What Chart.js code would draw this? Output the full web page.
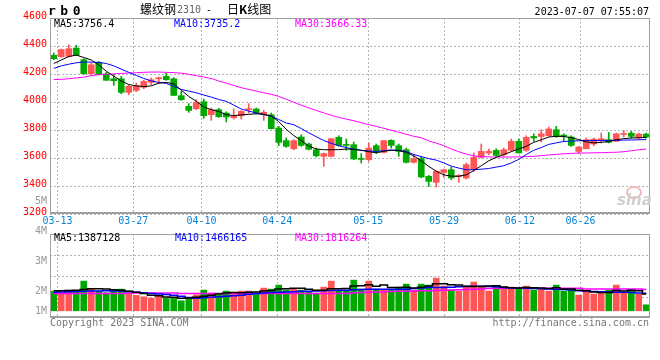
<!DOCTYPE html>
<html>
<head>
<meta charset="utf-8">
<script src="https://cdn.jsdelivr.net/npm/chart.js@4.4.0/dist/chart.umd.min.js"></script>
<style>
  html, body { margin: 0; padding: 0; background: #fff; }
  #wrap { position: relative; width: 660px; height: 360px; overflow: hidden;
          font-family: "DejaVu Sans Mono", monospace; font-size: 10px; }
  canvas { position: absolute; left: 0; }
  .t { position: absolute; white-space: nowrap; line-height: 12px; }
  .cjk { font-family: "Noto Sans CJK SC", sans-serif; font-size: 12px; }
  .vlab { position: absolute; right: 613px; line-height: 12px; color: #999; }
</style>
</head>
<body>
<div id="wrap">
  <canvas id="priceChart" width="660" height="232" style="top:0"></canvas>
  <canvas id="volChart" width="660" height="134" style="top:226px"></canvas>

  <div class="t" style="left:48px;top:4px;font-weight:bold;font-size:13px;letter-spacing:4.5px;line-height:13px">rb0</div>
  <div class="t cjk" style="left:140px;top:3px">螺纹钢</div>
  <div class="t" style="left:177px;top:4px;color:#666">2310</div>
  <div class="t" style="left:206px;top:4px">-</div>
  <div class="t cjk" style="left:227px;top:3px">日<b>K</b>线图</div>
  <div class="t" style="right:11px;top:6px">2023-07-07 07:55:07</div>

  <div class="t" id="pMa5" style="left:54px;top:18px;color:#000"></div>
  <div class="t" id="pMa10" style="left:174px;top:18px;color:#0000ff"></div>
  <div class="t" id="pMa30" style="left:295px;top:18px;color:#ff00ff"></div>

  <div class="t" id="vMa5" style="left:54px;top:232px;color:#000"></div>
  <div class="t" id="vMa10" style="left:175px;top:232px;color:#0000ff"></div>
  <div class="t" id="vMa30" style="left:295px;top:232px;color:#ff00ff"></div>

  <div class="vlab" style="top:195px">5M</div>
  <div class="vlab" style="top:225px">4M</div>
  <div class="vlab" style="top:255px">3M</div>
  <div class="vlab" style="top:285px">2M</div>
  <div class="vlab" style="top:305px">1M</div>

  <div class="t" style="left:626px;top:186px;width:12px;height:9px;border:2px solid #f4b8b8;border-radius:50%;line-height:0"></div>
  <div class="t" style="left:617px;top:194px;font-family:'DejaVu Sans',sans-serif;font-style:italic;font-weight:bold;font-size:15px;color:#cfcfcf">sina</div>

  <div class="t" style="left:50px;top:317px;color:#777">Copyright 2023 SINA.COM</div>
  <div class="t" style="right:11px;top:317px;color:#777">http://finance.sina.com.cn</div>
</div>

<script>
// --- DATA ---
// one bar per trading day, 03-10 .. 07-07
const dateTicks = ['03-13', '03-27', '04-10', '04-24', '05-15', '05-29', '06-12', '06-26'];
const dateTickBars = [1, 11, 20, 30, 42, 52, 62, 70];

const opens = [4333, 4324, 4326, 4385, 4302, 4202, 4283, 4200, 4166, 4166,
  4069, 4083, 4105, 4140, 4166, 4183, 4166, 4045, 3969, 3952,
  4002, 3909, 3945, 3921, 3888, 3902, 3945, 3950, 3914, 3909,
  3814, 3724, 3666, 3750, 3700, 3659, 3612, 3612, 3747, 3693,
  3695, 3596, 3588, 3688, 3640, 3726, 3688, 3659, 3569, 3595,
  3469, 3426, 3497, 3516, 3469, 3457, 3516, 3605, 3636, 3655,
  3624, 3655, 3719, 3655, 3754, 3754, 3759, 3802, 3759, 3750,
  3647, 3666, 3700, 3728, 3731, 3719, 3768, 3778, 3743, 3771];
const highs = [4350, 4378, 4409, 4405, 4309, 4278, 4290, 4212, 4195, 4183,
  4124, 4135, 4155, 4171, 4178, 4207, 4174, 4076, 3988, 4016,
  4021, 3957, 3955, 3930, 3950, 3938, 3988, 3957, 3940, 3921,
  3826, 3743, 3731, 3766, 3707, 3671, 3636, 3738, 3759, 3735,
  3714, 3631, 3707, 3700, 3726, 3731, 3700, 3671, 3624, 3612,
  3476, 3510, 3521, 3535, 3481, 3564, 3636, 3700, 3664, 3666,
  3671, 3735, 3735, 3759, 3773, 3802, 3821, 3826, 3773, 3759,
  3683, 3743, 3743, 3778, 3783, 3778, 3797, 3790, 3778, 3778];
const lows = [4302, 4319, 4321, 4331, 4197, 4188, 4193, 4155, 4119, 4059,
  4052, 4074, 4095, 4124, 4131, 4155, 4047, 4012, 3926, 3945,
  3883, 3869, 3890, 3857, 3878, 3878, 3921, 3914, 3869, 3807,
  3688, 3676, 3659, 3683, 3657, 3607, 3540, 3607, 3683, 3655,
  3588, 3564, 3576, 3631, 3636, 3671, 3612, 3564, 3564, 3459,
  3397, 3393, 3462, 3445, 3426, 3450, 3505, 3600, 3624, 3612,
  3612, 3647, 3636, 3647, 3719, 3714, 3754, 3747, 3719, 3683,
  3631, 3666, 3688, 3707, 3707, 3719, 3750, 3743, 3735, 3743];
const closes = [4309, 4374, 4381, 4333, 4202, 4266, 4197, 4155, 4152, 4069,
  4112, 4116, 4147, 4159, 4174, 4159, 4047, 4016, 3940, 3997,
  3902, 3945, 3895, 3893, 3898, 3933, 3950, 3921, 3926, 3809,
  3712, 3683, 3724, 3690, 3662, 3616, 3631, 3738, 3690, 3690,
  3593, 3590, 3671, 3647, 3724, 3690, 3647, 3569, 3595, 3464,
  3433, 3505, 3516, 3457, 3474, 3552, 3605, 3647, 3647, 3619,
  3659, 3719, 3636, 3747, 3743, 3773, 3807, 3754, 3757, 3690,
  3678, 3731, 3735, 3738, 3712, 3773, 3771, 3754, 3771, 3750];

const ma5 = [4275, 4300, 4325, 4335, 4318, 4300, 4265, 4220, 4185, 4150,
  4125, 4115, 4110, 4115, 4135, 4140, 4130, 4085, 4040, 4005,
  3965, 3945, 3932, 3910, 3903, 3908, 3912, 3916, 3912, 3900,
  3860, 3805, 3760, 3725, 3685, 3665, 3659, 3659, 3660, 3664,
  3662, 3655, 3645, 3637, 3648, 3655, 3655, 3640, 3615, 3580,
  3540, 3505, 3480, 3470, 3469, 3480, 3510, 3545, 3580, 3605,
  3625, 3645, 3665, 3683, 3712, 3730, 3750, 3755, 3754, 3745,
  3732, 3715, 3708, 3712, 3718, 3730, 3738, 3743, 3745, 3747];
const ma10 = [4240, 4258, 4270, 4280, 4285, 4285, 4283, 4275, 4258, 4235,
  4212, 4190, 4168, 4150, 4140, 4133, 4112, 4090, 4078, 4066,
  4050, 4035, 4018, 4005, 3978, 3950, 3935, 3922, 3910, 3898,
  3875, 3850, 3838, 3810, 3780, 3752, 3725, 3705, 3688, 3675,
  3662, 3655, 3650, 3647, 3652, 3658, 3652, 3647, 3625, 3610,
  3595, 3585, 3565, 3542, 3528, 3516, 3516, 3520, 3525, 3535,
  3545, 3565, 3590, 3625, 3655, 3675, 3697, 3708, 3718, 3721,
  3723, 3724, 3725, 3725, 3726, 3726, 3728, 3729, 3730, 3732];
const ma30 = [4160, 4162, 4166, 4172, 4178, 4188, 4195, 4198, 4201, 4204,
  4207, 4209, 4212, 4214, 4214, 4212, 4210, 4206, 4198, 4188,
  4178, 4168, 4150, 4135, 4118, 4102, 4090, 4078, 4066, 4055,
  4040, 4020, 3998, 3977, 3958, 3940, 3922, 3905, 3890, 3878,
  3866, 3852, 3838, 3826, 3812, 3798, 3784, 3770, 3755, 3745,
  3722, 3707, 3688, 3665, 3645, 3628, 3615, 3610, 3608, 3607,
  3607, 3607, 3608, 3610, 3612, 3616, 3622, 3626, 3630, 3633,
  3635, 3636, 3637, 3638, 3640, 3641, 3645, 3652, 3658, 3664];

const volumes = [1642000, 1500000, 1717000, 1550000, 2475000, 1808000, 1642000, 1500000, 1667000, 1808000,
  1450000, 1283000, 1167000, 1058000, 1283000, 1033000, 1033000, 833000, 1117000, 1333000,
  1725000, 1475000, 1308000, 1642000, 1475000, 1642000, 1642000, 1392000, 1892000, 1808000,
  2142000, 1725000, 1808000, 1725000, 1558000, 1475000, 1975000, 2475000, 1642000, 1667000,
  2558000, 1808000, 2475000, 1808000, 1725000, 1725000, 1975000, 2225000, 1725000, 2225000,
  2142000, 2725000, 2058000, 1725000, 1642000, 2058000, 2392000, 2058000, 1642000, 2058000,
  1917000, 1975000, 1808000, 2058000, 1725000, 1808000, 1642000, 2142000, 1642000, 1725000,
  1308000, 1642000, 1392000, 1558000, 1725000, 2142000, 1475000, 1642000, 1392000, 500000];
const volMa5 = [1670000, 1680000, 1700000, 1720000, 1770000, 1830000, 1840000, 1820000, 1760000, 1720000,
  1620000, 1550000, 1450000, 1300000, 1250000, 1160000, 1120000, 1040000, 1060000, 1120000,
  1210000, 1300000, 1400000, 1490000, 1520000, 1510000, 1540000, 1560000, 1660000, 1700000,
  1820000, 1830000, 1870000, 1880000, 1790000, 1720000, 1710000, 1840000, 1830000, 1850000,
  2060000, 2090000, 2180000, 2050000, 2160000, 1950000, 1950000, 1960000, 1890000, 1970000,
  2060000, 2250000, 2260000, 2180000, 2140000, 2040000, 2020000, 2020000, 2070000, 2080000,
  1990000, 1930000, 1910000, 1950000, 1930000, 1910000, 1850000, 1920000, 1820000, 1820000,
  1720000, 1670000, 1560000, 1520000, 1530000, 1690000, 1660000, 1710000, 1680000, 1390000];
const volMa10 = [1550000, 1570000, 1590000, 1610000, 1630000, 1650000, 1660000, 1670000, 1660000, 1640000,
  1600000, 1550000, 1500000, 1450000, 1400000, 1350000, 1300000, 1220000, 1100000, 1040000,
  1080000, 1120000, 1170000, 1210000, 1250000, 1300000, 1380000, 1450000, 1490000, 1520000,
  1550000, 1570000, 1590000, 1620000, 1630000, 1650000, 1670000, 1690000, 1710000, 1720000,
  1750000, 1770000, 1800000, 1800000, 1800000, 1800000, 1800000, 1800000, 1850000, 1900000,
  1950000, 1950000, 1950000, 1970000, 2000000, 2030000, 2050000, 2040000, 2020000, 2000000,
  1950000, 1920000, 1880000, 1870000, 1850000, 1830000, 1810000, 1790000, 1770000, 1740000,
  1680000, 1650000, 1610000, 1580000, 1560000, 1550000, 1540000, 1530000, 1490000, 1466000];
const volMa30 = [1450000, 1450000, 1450000, 1450000, 1450000, 1450000, 1450000, 1450000, 1450000, 1450000,
  1480000, 1480000, 1480000, 1480000, 1480000, 1480000, 1480000, 1450000, 1450000, 1450000,
  1450000, 1450000, 1450000, 1450000, 1450000, 1450000, 1450000, 1450000, 1450000, 1450000,
  1450000, 1450000, 1450000, 1450000, 1450000, 1450000, 1450000, 1450000, 1450000, 1450000,
  1500000, 1520000, 1550000, 1565000, 1580000, 1600000, 1620000, 1635000, 1650000, 1665000,
  1680000, 1695000, 1710000, 1730000, 1750000, 1775000, 1800000, 1825000, 1850000, 1870000,
  1870000, 1870000, 1870000, 1870000, 1870000, 1870000, 1870000, 1870000, 1870000, 1870000,
  1870000, 1820000, 1820000, 1820000, 1820000, 1820000, 1820000, 1820000, 1820000, 1780000];

// latest values shown in the panel headers
const priceMaLabels = ['MA5:3756.4', 'MA10:3735.2', 'MA30:3666.33'];
const volMaLabels = ['MA5:1387128', 'MA10:1466165', 'MA30:1816264'];

// --- STYLE ---
const RED = '#ff5555';
const GREEN = '#00a800';
const MONO = 'DejaVu Sans Mono';
// the original draws its date lines on a slightly wider day step than the candles
const GRID_STRETCH = 7.58 / 7.5;
const tickValues = dateTickBars.map(b => b - 0.5 + (b - 1) * (GRID_STRETCH - 1));

const candleColors = closes.map((c, i) => (c >= opens[i] ? RED : GREEN));
const xy = arr => arr.map((v, i) => ({ x: i, y: v }));

document.getElementById('pMa5').textContent = priceMaLabels[0];
document.getElementById('pMa10').textContent = priceMaLabels[1];
document.getElementById('pMa30').textContent = priceMaLabels[2];
document.getElementById('vMa5').textContent = volMaLabels[0];
document.getElementById('vMa10').textContent = volMaLabels[1];
document.getElementById('vMa30').textContent = volMaLabels[2];

const frame = {
  id: 'frame',
  afterDraw(chart) {
    const { ctx, chartArea: a } = chart;
    ctx.save();
    ctx.strokeStyle = '#a0a0a0';
    ctx.lineWidth = 1;
    ctx.strokeRect(a.left + 0.5, a.top + 0.5, a.right - a.left - 1, a.bottom - a.top - 1);
    ctx.fillStyle = '#a0a0a0';
    ctx.fillRect(a.left, a.bottom - 2, a.right - a.left, 2);
    ctx.restore();
  }
};

function xScale(showLabels) {
  return {
    type: 'linear',
    min: -0.5,
    max: 79.5,
    offset: false,
    afterBuildTicks: s => { s.ticks = tickValues.map(v => ({ value: v })); },
    afterFit: s => { s.height = showLabels ? 18 : 0; },
    ticks: {
      display: showLabels,
      autoSkip: false,
      maxRotation: 0,
      padding: 1,
      color: '#0a84d6',
      font: { family: MONO, size: 10 },
      callback: (v, idx) => dateTicks[idx]
    },
    grid: { color: '#b4b4b4', drawTicks: false, offset: false },
    border: { display: false, dash: [2, 2] }
  };
}

const lineDs = (label, data, color, extra) => Object.assign({
  type: 'line', label, data: xy(data), borderColor: color, borderWidth: 1,
  pointRadius: 0, tension: 0, fill: false
}, extra || {});

// --- PRICE PANEL ---
new Chart(document.getElementById('priceChart'), {
  type: 'bar',
  data: {
    datasets: [
      lineDs('MA5', ma5, '#000000'),
      lineDs('MA10', ma10, '#0000ff'),
      lineDs('MA30', ma30, '#ff00ff'),
      {
        type: 'bar', label: 'body', grouped: false,
        data: opens.map((o, i) => ({ x: i, y: [o, closes[i]] })),
        backgroundColor: candleColors, barThickness: 6, minBarLength: 1
      },
      {
        type: 'bar', label: 'wick', grouped: false,
        data: lows.map((l, i) => ({ x: i, y: [l, highs[i]] })),
        backgroundColor: candleColors, barThickness: 1
      }
    ]
  },
  options: {
    responsive: false,
    animation: false,
    devicePixelRatio: 1,
    layout: { padding: { top: 18, right: 10, left: 0, bottom: 0 } },
    plugins: { legend: { display: false }, tooltip: { enabled: false } },
    scales: {
      x: xScale(true),
      y: {
        min: 3200,
        max: 4600,
        afterFit: s => { s.width = 50; },
        ticks: {
          stepSize: 200,
          padding: 3,
          labelOffset: -2,
          color: '#ff0000',
          font: { family: MONO, size: 10 },
          callback: v => String(v)
        },
        grid: { color: '#b4b4b4', drawTicks: false },
        border: { display: false, dash: [2, 2] }
      }
    }
  },
  plugins: [frame]
});

// --- VOLUME PANEL ---
new Chart(document.getElementById('volChart'), {
  type: 'bar',
  data: {
    datasets: [
      lineDs('MA5', volMa5, '#000000', { stepped: 'middle', borderWidth: 1.5 }),
      lineDs('MA10', volMa10, '#0000ff', { stepped: 'middle', borderWidth: 1.5 }),
      lineDs('MA30', volMa30, '#ff00ff', { stepped: 'middle', borderWidth: 1.5 }),
      {
        type: 'bar', label: 'volume', grouped: false,
        data: xy(volumes),
        backgroundColor: candleColors, barThickness: 6
      }
    ]
  },
  options: {
    responsive: false,
    animation: false,
    devicePixelRatio: 1,
    layout: { padding: { top: 8, right: 10, left: 0, bottom: 42 } },
    plugins: { legend: { display: false }, tooltip: { enabled: false } },
    scales: {
      x: xScale(false),
      y: {
        min: -600000,
        max: 6400000,
        afterFit: s => { s.width = 50; },
        afterBuildTicks: s => {
          const step = (s.max - s.min) / 4;
          s.ticks = [1, 2, 3].map(k => ({ value: s.min + k * step }));
        },
        ticks: { display: false },
        grid: { color: '#b4b4b4', drawTicks: false },
        border: { display: false, dash: [2, 2] }
      }
    }
  },
  plugins: [frame]
});
</script>
</body>
</html>
